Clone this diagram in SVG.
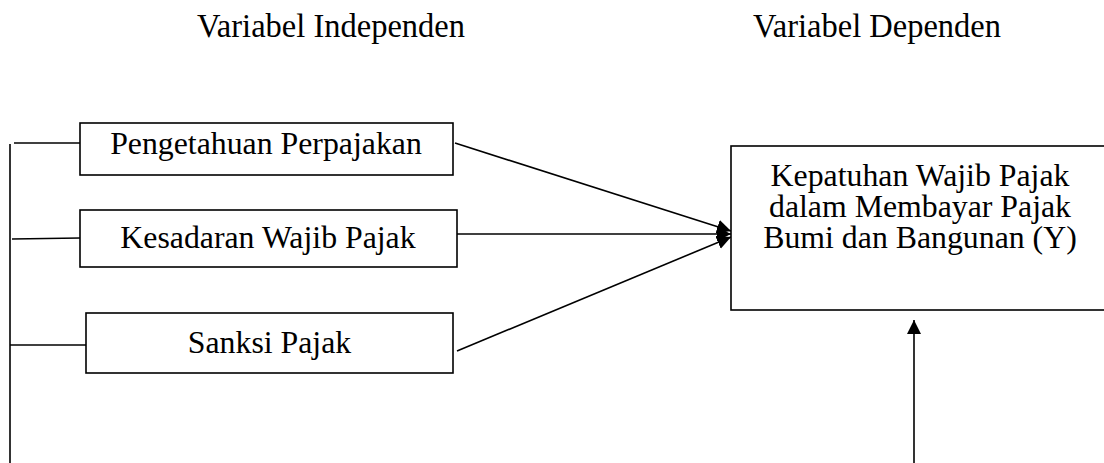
<svg xmlns="http://www.w3.org/2000/svg" width="1104" height="463" viewBox="0 0 1104 463">
<style>
.box{fill:#fff;stroke:#000;stroke-width:1.6}
.lbl{font-family:"Liberation Serif","Times New Roman",serif;font-size:31.8px;fill:#000;text-anchor:middle}
.hdr{font-family:"Liberation Serif","Times New Roman",serif;font-size:33px;fill:#000}
.ln{stroke:#000;stroke-width:1.6;fill:none}
</style>
<defs>
<marker id="ah" markerUnits="userSpaceOnUse" markerWidth="16" markerHeight="16" refX="14" refY="7" orient="auto">
<path d="M0,0 L14,7 L0,14 z" fill="#000"/>
</marker>
</defs>
<g id="headers">
<text class="hdr" x="197" y="37" textLength="268" lengthAdjust="spacingAndGlyphs">Variabel Independen</text>
<text class="hdr" x="753" y="37" textLength="248" lengthAdjust="spacingAndGlyphs">Variabel Dependen</text>
</g>
<g id="connectors">
<line class="ln" x1="10" y1="144" x2="10" y2="463"/>
<line class="ln" x1="14" y1="143" x2="80" y2="143"/>
<line class="ln" x1="12" y1="239" x2="80" y2="238"/>
<line class="ln" x1="10" y1="345" x2="86" y2="345"/>
<line class="ln" x1="455" y1="143" x2="731" y2="231" marker-end="url(#ah)"/>
<line class="ln" x1="457" y1="234" x2="731" y2="234" marker-end="url(#ah)"/>
<line class="ln" x1="457" y1="351" x2="731" y2="237" marker-end="url(#ah)"/>
<line class="ln" x1="914" y1="463" x2="914" y2="320" marker-end="url(#ah)"/>
</g>
<g id="n1">
<rect class="box" x="80" y="123" width="373" height="52"/>
<text class="lbl" x="266" y="154">Pengetahuan Perpajakan</text>
</g>
<g id="n2">
<rect class="box" x="80" y="210" width="377" height="57"/>
<text class="lbl" x="268" y="248">Kesadaran Wajib Pajak</text>
</g>
<g id="n3">
<rect class="box" x="86" y="313" width="367" height="60"/>
<text class="lbl" x="269.5" y="353">Sanksi Pajak</text>
</g>
<g id="y">
<rect class="box" x="731" y="146" width="380" height="164"/>
<text class="lbl" x="920" y="186">Kepatuhan Wajib Pajak</text>
<text class="lbl" x="920" y="217">dalam Membayar Pajak</text>
<text class="lbl" x="920" y="248">Bumi dan Bangunan (Y)</text>
</g>
</svg>
